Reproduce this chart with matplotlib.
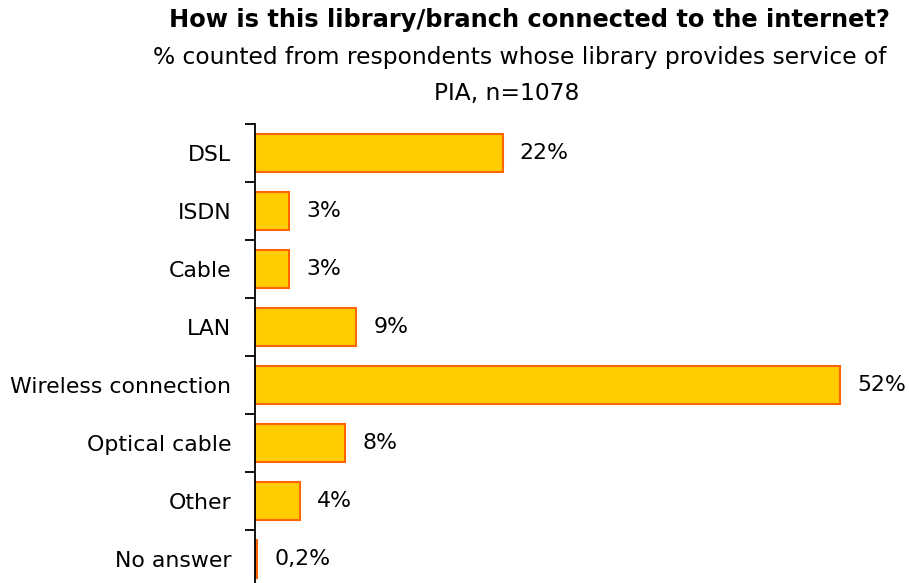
import matplotlib.pyplot as plt

categories = ["DSL", "ISDN", "Cable", "LAN", "Wireless connection",
              "Optical cable", "Other", "No answer"]
shares = [22, 3, 3, 9, 52, 8, 4, 0.2]
value_labels = ["22%", "3%", "3%", "9%", "52%", "8%", "4%", "0,2%"]

fig = plt.figure(figsize=(9.09, 5.83), dpi=100)
ax = fig.add_axes([255 / 909, -5 / 583, 645 / 909, 464 / 583])

pos = range(len(categories))
ax.barh(pos, shares, height=0.66, color="#FFCC00", edgecolor="#FF6600",
        linewidth=1.5)
ax.set_ylim(len(categories) - 0.5, -0.5)
ax.set_xlim(0, 645 / 11.25)

for i, (v, lab) in enumerate(zip(shares, value_labels)):
    ax.annotate(lab, (v, i), xytext=(12.5, 0), textcoords="offset points",
                va="center", ha="left", fontsize=15.8)

# category ticks sit on the boundaries, labels between them
ax.set_yticks([p - 0.5 for p in range(len(categories) + 1)])
ax.set_yticklabels([])
ax.set_yticks(list(pos), minor=True)
ax.set_yticklabels(categories, minor=True, fontsize=15.8)
ax.tick_params(axis="y", which="major", length=7.5, width=1.3, direction="out")
ax.tick_params(axis="y", which="minor", length=0, pad=17)
ax.set_xticks([])

for side in ["top", "right", "bottom"]:
    ax.spines[side].set_visible(False)
ax.spines["left"].set_linewidth(1.3)

fig.text(0.582, 0.965, "How is this library/branch connected to the internet?",
         ha="center", va="center", fontsize=17.4, fontweight="bold")
fig.text(0.572, 0.902, "% counted from respondents whose library provides service of",
         ha="center", va="center", fontsize=16.8)
fig.text(0.557, 0.840, "PIA, n=1078", ha="center", va="center", fontsize=16.8)

plt.savefig("out.png")
